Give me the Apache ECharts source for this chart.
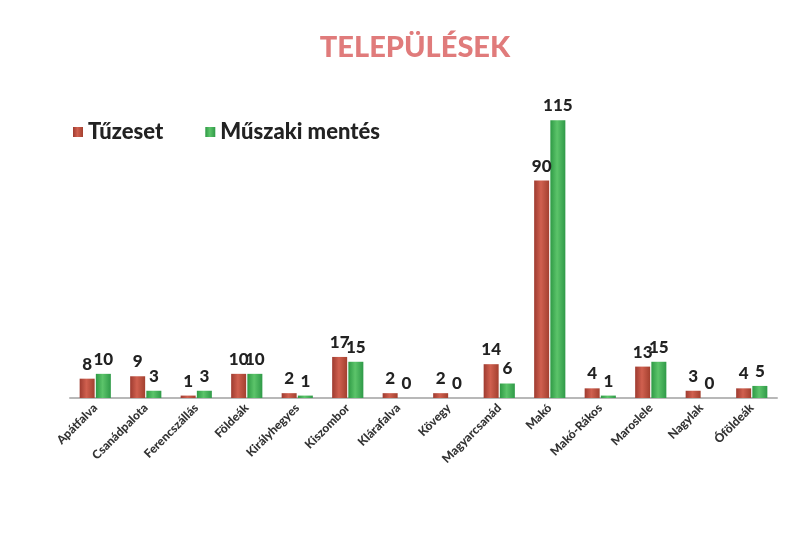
<!DOCTYPE html>
<html>
<head>
<meta charset="utf-8">
<script src="https://cdn.jsdelivr.net/npm/echarts@6/dist/echarts.min.js"></script>
<style>
  html, body { margin: 0; padding: 0; background: #fff; }
  #chart { width: 791px; height: 533px; }
</style>
</head>
<body>
<div id="chart"></div>
<script>
// településnevek
const categories = ['Apátfalva', 'Csanádpalota', 'Ferencszállás', 'Földeák', 'Királyhegyes',
  'Kiszombor', 'Klárafalva', 'Kövegy', 'Magyarcsanád', 'Makó', 'Makó-Rákos',
  'Maroslele', 'Nagylak', 'Óföldeák'];
const tuzeset = [8, 9, 1, 10, 2, 17, 2, 2, 14, 90, 4, 13, 3, 4];
const muszakiMentes = [10, 3, 3, 10, 1, 15, 0, 0, 6, 115, 1, 15, 0, 5];

const chart = echarts.init(document.getElementById('chart'));

const labelStyle = {
  show: true,
  position: 'top',
  distance: 6,
  color: '#222',
  fontFamily: 'Lato',
  fontWeight: 900,
  fontSize: 17
};

chart.setOption({
  backgroundColor: '#fff',
  title: {
    text: 'TELEPÜLÉSEK',
    left: 410,
    top: 28,
    textAlign: 'center',
    textStyle: { color: '#e07b7b', fontSize: 29, fontWeight: 900, fontFamily: 'Lato' }
  },
  legend: {
    left: 68,
    top: 116,
    itemWidth: 10,
    itemHeight: 10,
    itemGap: 42,
    icon: 'rect',
    textStyle: { color: '#222', fontSize: 22, fontWeight: 900, fontFamily: 'Lato' }
  },
  grid: { left: 70, right: 14, top: 84, bottom: 135 },
  xAxis: {
    type: 'category',
    data: categories,
    axisLine: { lineStyle: { color: '#b8b8b8', width: 2 } },
    axisTick: { show: false },
    axisLabel: {
      rotate: 45,
      interval: 0,
      margin: 8,
      color: '#333',
      fontSize: 12,
      fontWeight: 900,
      fontFamily: 'Lato'
    }
  },
  yAxis: {
    type: 'value',
    min: 0,
    max: 130,
    show: false
  },
  series: [
    {
      name: 'Tűzeset',
      type: 'bar',
      data: tuzeset,
      barWidth: 15,
      barGap: '8%',
      itemStyle: {
        color: new echarts.graphic.LinearGradient(0, 0, 1, 0, [
          { offset: 0, color: '#9e3b30' },
          { offset: 0.45, color: '#d0604f' },
          { offset: 1, color: '#a3402f' }
        ])
      },
      label: labelStyle
    },
    {
      name: 'Műszaki mentés',
      type: 'bar',
      data: muszakiMentes,
      barWidth: 15,
      itemStyle: {
        color: new echarts.graphic.LinearGradient(0, 0, 1, 0, [
          { offset: 0, color: '#2e9a45' },
          { offset: 0.45, color: '#5cc46a' },
          { offset: 1, color: '#2f9a48' }
        ])
      },
      label: labelStyle
    }
  ]
});
</script>
</body>
</html>
